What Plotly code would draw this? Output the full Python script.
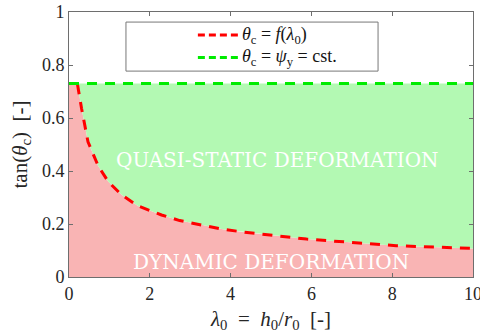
import plotly.graph_objects as go

# critical slope vs. aspect ratio
lam = [0.21, 0.31, 0.47, 0.72, 0.97, 1.30, 1.71, 2.29, 2.74, 3.28, 3.81,
       4.35, 4.84, 5.38, 5.88, 6.95, 8.1, 10.0]
tan_c = [0.727, 0.637, 0.51, 0.42, 0.36, 0.31, 0.268, 0.234, 0.213, 0.197,
         0.18, 0.169, 0.161, 0.152, 0.143, 0.131, 0.118, 0.108]
phi_y = 0.73
x_range = [0, 10]

labels = ["<i>θ</i><sub>c</sub> = <i>f</i>(<i>λ</i><sub>0</sub>)",
          "<i>θ</i><sub>c</sub> = <i>ψ</i><sub>y</sub> = cst."]
line_colors = ["rgb(255,0,0)", "rgb(0,235,0)"]

SERIF = "Liberation Serif, DejaVu Serif, serif"
WIDE_SERIF = "DejaVu Serif, serif"
TEXT_COLOR = "rgb(38,38,38)"
RED_FILL = "rgb(249,180,180)"
GREEN_FILL = "rgb(179,249,179)"
DASH = "10px,8px"

fig = go.Figure()

# dynamic region: below the curve, capped by the friction angle
fig.add_trace(go.Scatter(
    x=[x_range[0]] + lam + [x_range[1], x_range[0]],
    y=[phi_y] + tan_c + [0, 0],
    fill="toself", fillcolor=RED_FILL, line=dict(width=0),
    mode="lines", showlegend=False, hoverinfo="skip"))

# quasi-static region: between the curve and the friction angle
fig.add_trace(go.Scatter(
    x=[x_range[0], x_range[1]] + lam[::-1],
    y=[phi_y, phi_y] + tan_c[::-1],
    fill="toself", fillcolor=GREEN_FILL, line=dict(width=0),
    mode="lines", showlegend=False, hoverinfo="skip"))

fig.add_trace(go.Scatter(
    x=lam, y=tan_c, mode="lines", showlegend=False,
    line=dict(color=line_colors[0], width=3, dash=DASH), name=labels[0]))

fig.add_trace(go.Scatter(
    x=x_range, y=[phi_y, phi_y], mode="lines", showlegend=False,
    line=dict(color=line_colors[1], width=3, dash=DASH), name=labels[1]))

fig.add_annotation(x=5.17, y=0.44, text="QUASI-STATIC DEFORMATION",
                   showarrow=False,
                   font=dict(family=WIDE_SERIF, size=20, color="white"))
fig.add_annotation(x=5.01, y=0.058, text="DYNAMIC DEFORMATION",
                   showarrow=False,
                   font=dict(family=WIDE_SERIF, size=20, color="white"))

# legend box
fig.add_shape(type="rect", xref="paper", yref="paper",
              x0=0.141, x1=0.765, y0=0.777, y1=0.962,
              line=dict(color="rgb(120,120,120)", width=1), fillcolor="white",
              layer="above")
for row, (label, color) in enumerate(zip(labels, line_colors)):
    ypos = 0.913 - row * 0.085
    fig.add_shape(type="line", xref="paper", yref="paper",
                  x0=0.319, x1=0.418, y0=ypos, y1=ypos, layer="above",
                  line=dict(color=color, width=3, dash="7px,4px"))
    fig.add_annotation(xref="paper", yref="paper", x=0.424, y=ypos,
                       xanchor="left", yanchor="middle", text=label,
                       showarrow=False,
                       font=dict(family=SERIF, size=18, color="rgb(20,20,20)"))

axis_common = dict(
    showline=True, linecolor="rgb(110,110,110)", linewidth=1, mirror="allticks",
    ticks="inside", ticklen=4, tickcolor="rgb(110,110,110)", showgrid=False,
    zeroline=False, ticklabeloverflow="allow",
    tickfont=dict(family=SERIF, size=18, color=TEXT_COLOR),
)

fig.update_layout(
    width=480, height=335,
    margin=dict(l=69, r=7, t=12, b=58, autoexpand=False),
    plot_bgcolor="white", paper_bgcolor="white",
    showlegend=False,
    xaxis=dict(range=x_range, tickvals=[0, 2, 4, 6, 8, 10],
               title=dict(text="<i>λ</i><sub>0</sub>  =  <i>h</i><sub>0</sub>/<i>r</i><sub>0</sub>  [-]",
                          font=dict(family=SERIF, size=21, color=TEXT_COLOR),
                          standoff=8),
               **axis_common),
    yaxis=dict(range=[0, 1], tickvals=[0, 0.2, 0.4, 0.6, 0.8, 1],
               ticktext=["0", "0.2", "0.4", "0.6", "0.8", "1"],
               title=dict(text="tan(<i>θ</i><sub>c</sub>)  [-]",
                          font=dict(family=SERIF, size=21, color=TEXT_COLOR),
                          standoff=8),
               **axis_common),
)

fig.write_html("out.html")
